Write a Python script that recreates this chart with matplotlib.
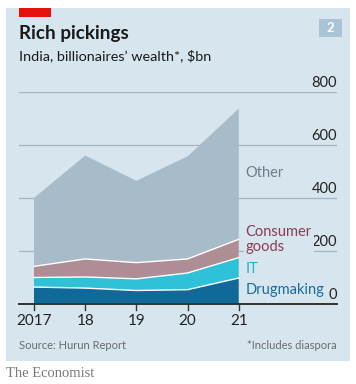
import numpy as np
import matplotlib
matplotlib.use("Agg")
import matplotlib.pyplot as plt
from matplotlib.patches import Rectangle
from matplotlib.transforms import blended_transform_factory

# data ($bn, stacked components)
years = [2017, 2018, 2019, 2020, 2021]
year_labels = ["2017", "18", "19", "20", "21"]
drugmaking = [64, 60, 51, 54, 98]
it = [36, 42, 44, 63, 77]
consumer = [42, 68, 61, 53, 69]
other = [258, 390, 309, 387, 493]
yticks = [0, 200, 400, 600, 800]

BG = "#d6e5ee"
W, H = 356, 384

plt.rcParams['font.family'] = ['Lato', 'DejaVu Sans']

fig = plt.figure(figsize=(W / 100, H / 100), dpi=100)
fig.patch.set_facecolor("white")


def fx(px):
    return px / W


def fy(py):
    return 1 - py / H


# panel background
fig.patches.append(Rectangle((fx(6), fy(361)), fx(344), (361 - 8) / H,
                             transform=fig.transFigure, facecolor=BG,
                             edgecolor="none", zorder=0))
# red tag
fig.patches.append(Rectangle((fx(19), fy(17)), fx(32), 9 / H,
                             transform=fig.transFigure, facecolor="#e3120b",
                             edgecolor="none", zorder=1))
# number box
fig.patches.append(Rectangle((fx(319), fy(37)), fx(23), 18 / H,
                             transform=fig.transFigure, facecolor="#a9c4d6",
                             edgecolor="none", zorder=1))
fig.text(fx(330.5), fy(28), "2", color="white", fontsize=9.5, fontweight="bold",
         ha="center", va="center")

fig.text(fx(19), fy(38.5), "Rich pickings", fontsize=13.6, fontweight="bold",
         color="#1a1a1a", va="baseline")
fig.text(fx(19), fy(60.5), "India, billionaires\u2019 wealth*, $bn", fontsize=10.4,
         color="#1a1a1a", va="baseline")

ax = fig.add_axes([fx(19), fy(304), fx(318), 212 / H])
ax.set_zorder(3)
ax.set_facecolor("none")
x0 = 2017 - 15 / 51.2
x1 = 2021 + (337 - 238.7) / 51.2
ax.set_xlim(x0, x1)
ax.set_ylim(0, 800)
for s in ax.spines.values():
    s.set_visible(False)
ax.set_yticks([])
ax.set_xticks([])

# gridlines
for v in yticks[1:]:
    ax.axhline(v, color="#a4b5c0", linewidth=0.9, zorder=1)
trans = blended_transform_factory(ax.transAxes, ax.transData)
for v in yticks:
    ax.text(1.0, v + 8, str(v), transform=trans, ha="right", va="bottom",
            fontsize=10.5, color="#222222", zorder=5)

ax.stackplot(years, drugmaking, it, consumer, other,
             colors=["#11699a", "#2fc1d7", "#ae8d95", "#a8bbc8"],
             linewidth=0, zorder=2)

# white separators
c1 = np.array(drugmaking)
c2 = c1 + np.array(it)
c3 = c2 + np.array(consumer)
for c in (c1, c2, c3):
    ax.plot(years, c, color="white", linewidth=1.0, zorder=3)

# baseline and ticks
ax.axhline(0, color="#333333", linewidth=1.4, zorder=4, clip_on=False)
for yr, lab in zip(years, year_labels):
    ax.plot([yr, yr], [0, -22], color="#333333", linewidth=1, clip_on=False, zorder=4)
    ax.text(yr, -36, lab, ha="center", va="top", fontsize=11, color="#222222")

# area labels
lx = 2021 + 7 / 51.2
ax.text(lx, 495, "Other", fontsize=10.5, color="#6c7e8a", va="center", ha="left",
        zorder=5)
ax.text(lx, 244, "Consumer\ngoods", fontsize=10.5, color="#8c3c55", va="center", ha="left",
        linespacing=1.1, zorder=5,
        bbox=dict(facecolor=BG, edgecolor="none", pad=1.5))
ax.text(lx, 133, "IT", fontsize=10.5, color="#1fb2cc", va="center", ha="left",
        zorder=5)
ax.text(lx, 54, "Drugmaking", fontsize=10.5, color="#1a6e9b", va="center", ha="left",
        zorder=5)

fig.text(fx(19), fy(349), "Source: Hurun Report", fontsize=8, color="#6b6b6b",
         va="baseline")
fig.text(fx(337), fy(349), "*Includes diaspora", fontsize=8, color="#6b6b6b",
         va="baseline", ha="right")
fig.text(fx(6), fy(377), "The Economist", fontsize=10.5, color="#7a7a7a",
         family=["Liberation Serif", "DejaVu Serif"], va="baseline")

fig.savefig("out.png", dpi=100)
